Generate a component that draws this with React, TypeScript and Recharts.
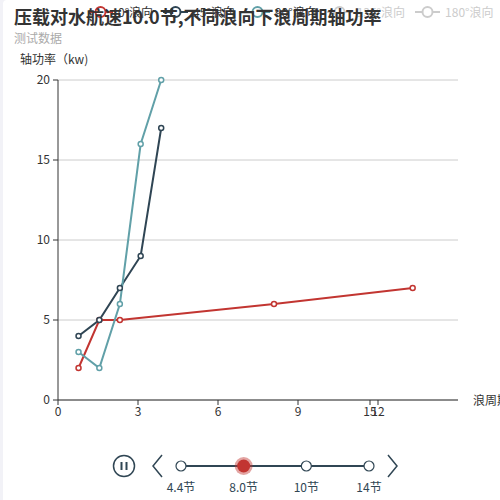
import React from "react";
import {
  LineChart,
  Line,
  XAxis,
  YAxis,
  CartesianGrid,
} from "recharts";

// data (wave period vs shaft power)
const periods0 = [0.77, 1.55, 2.32, 8.1, 13.3];
const power0 = [2, 5, 5, 6, 7];
const periods45 = [0.77, 1.55, 2.32, 3.1, 3.87];
const power45 = [4, 5, 7, 9, 17];
const periods90 = [0.77, 1.55, 2.32, 3.1, 3.87];
const power90 = [3, 2, 6, 16, 20];

const legendNames = ["0°浪向", "45°浪向", "90°浪向", "135°浪向", "180°浪向"];
const legendColors = ["#c23531", "#2f4554", "#61a0a8", "#d48265", "#91c7ae"];
const legendActive = [true, true, true, false, false];

const xTicks = [0, 3, 6, 9, 12, 15];
const yTicks = [0, 5, 10, 15, 20];

const timelineLabels = ["4.4节", "8.0节", "10节", "14节"];
const timelineCurrent = 1;

const FONT = '"Noto Sans CJK SC", "Noto Sans", sans-serif';

const toPoints = (xs: number[], ys: number[]) =>
  xs.map((x, i) => ({ x, y: ys[i] }));

const series = [
  { name: legendNames[0], color: legendColors[0], data: toPoints(periods0, power0) },
  { name: legendNames[1], color: legendColors[1], data: toPoints(periods45, power45) },
  { name: legendNames[2], color: legendColors[2], data: toPoints(periods90, power90) },
];

interface TickProps {
  x?: number;
  y?: number;
  payload?: { value: number };
}

// the source chart prints its "15" label on top of "12"
const XTick: React.FC<TickProps> = ({ x = 0, y = 0, payload }) => {
  const v = payload?.value ?? 0;
  const shift = v === 15 ? -88 : 0;
  return (
    <g transform={`translate(${x + shift},${y})`}>
      <line x1={0} x2={0} y1={-7} y2={-2} stroke="#333" />
      <text
        textAnchor="middle"
        dy="0.71em"
        fill="#333"
        fontSize={12}
        fontFamily={FONT}
      >
        {v}
      </text>
    </g>
  );
};

const LegendBar = () => (
  <div
    style={{
      position: "absolute",
      left: 88,
      top: 5,
      display: "flex",
      gap: 10,
      fontFamily: FONT,
      fontSize: 12,
      lineHeight: "14px",
    }}
  >
    {legendNames.map((name, i) => {
      const c = legendActive[i] ? legendColors[i] : "#ccc";
      return (
        <div key={name} style={{ display: "flex", alignItems: "center", gap: 5 }}>
          <svg width={25} height={14}>
            <line x1={0} x2={25} y1={7} y2={7} stroke={c} strokeWidth={2} />
            <circle cx={12.5} cy={7} r={5} fill="#fff" stroke={c} strokeWidth={2} />
          </svg>
          <span style={{ color: legendActive[i] ? "#333" : "#ccc" }}>{name}</span>
        </div>
      );
    })}
  </div>
);

const Timeline = () => {
  const start = 181;
  const end = 369;
  const step = (end - start) / (timelineLabels.length - 1);
  const cy = 466;
  const dark = "#304654";
  return (
    <svg
      width={500}
      height={60}
      viewBox="0 440 500 60"
      style={{ position: "absolute", left: 0, top: 440 }}
    >
      <circle cx={124} cy={cy} r={10.5} fill="none" stroke={dark} strokeWidth={1.5} />
      <rect x={120.5} y={cy - 4} width={2} height={8} fill={dark} />
      <rect x={125.5} y={cy - 4} width={2} height={8} fill={dark} />
      <polyline
        points={`162,455 153,466 162,477`}
        fill="none"
        stroke={dark}
        strokeWidth={1.5}
      />
      <polyline
        points={`388,455 397,466 388,477`}
        fill="none"
        stroke={dark}
        strokeWidth={1.5}
      />
      <line x1={start} x2={end} y1={cy} y2={cy} stroke={dark} strokeWidth={2} />
      {timelineLabels.map((label, i) => {
        const cx = start + i * step;
        const sel = i === timelineCurrent;
        return (
          <g key={label}>
            {sel ? (
              <>
                <circle cx={cx} cy={cy} r={9} fill="#c23531" opacity={0.45} />
                <circle cx={cx} cy={cy} r={6.5} fill="#c23531" />
              </>
            ) : (
              <circle cx={cx} cy={cy} r={5} fill="#fff" stroke={dark} strokeWidth={1.2} />
            )}
            <text
              x={cx}
              y={cy + 26}
              textAnchor="middle"
              fill={dark}
              fontSize={12}
              fontFamily={FONT}
            >
              {label}
            </text>
          </g>
        );
      })}
    </svg>
  );
};

export default function App() {
  return (
    <div
      style={{
        position: "absolute",
        left: 0,
        top: 0,
        width: 500,
        height: 500,
        background: "#f2f2f7",
        fontFamily: FONT,
      }}
    >
      <div
        style={{
          position: "absolute",
          left: 3,
          top: 0,
          width: 497,
          height: 500,
          background: "#fff",
          borderTopLeftRadius: 4,
        }}
      />
      <LegendBar />
      <div
        style={{
          position: "absolute",
          left: 14,
          top: 3,
          fontSize: 18,
          fontWeight: "bold",
          color: "#333",
          whiteSpace: "nowrap",
        }}
      >
        压载对水航速10.0节,不同浪向下浪周期轴功率
      </div>
      <div style={{ position: "absolute", left: 14, top: 29, fontSize: 12, color: "#aaa" }}>
        测试数据
      </div>
      <div style={{ position: "absolute", left: 20, top: 50, fontSize: 12, color: "#333" }}>
        轴功率（kw)
      </div>
      <div
        style={{
          position: "absolute",
          left: 473,
          top: 391,
          fontSize: 12,
          color: "#333",
          whiteSpace: "nowrap",
        }}
      >
        浪周期
      </div>

      <div style={{ position: "absolute", left: 0, top: 0 }}>
        <LineChart
          width={500}
          height={500}
          margin={{ top: 80, right: 42, bottom: 70, left: 18 }}
        >
          <CartesianGrid vertical={false} stroke="#ccc" />
          <XAxis
            type="number"
            dataKey="x"
            domain={[0, 15]}
            ticks={xTicks}
            height={30}
            tickLine={false}
            tickSize={5}
            tickMargin={2}
            stroke="#333"
            tick={<XTick />}
            allowDuplicatedCategory={false}
          />
          <YAxis
            type="number"
            domain={[0, 20]}
            ticks={yTicks}
            width={40}
            tickSize={5}
            tickMargin={3}
            stroke="#333"
            tick={{ fill: "#333", fontSize: 12, fontFamily: FONT }}
          />
          {series.map((s) => (
            <Line
              key={s.name}
              data={s.data}
              dataKey="y"
              name={s.name}
              type="linear"
              stroke={s.color}
              strokeWidth={2}
              dot={{ r: 2.5, fill: "#fff", stroke: s.color, strokeWidth: 1.5 }}
              activeDot={false}
              isAnimationActive={false}
            />
          ))}
        </LineChart>
      </div>
      <Timeline />
    </div>
  );
}
